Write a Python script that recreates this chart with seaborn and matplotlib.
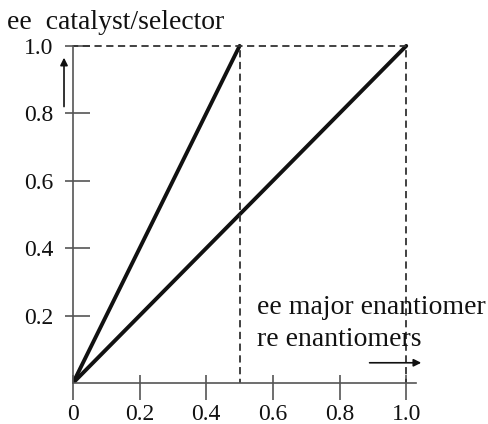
import matplotlib
matplotlib.use("Agg")
import matplotlib.pyplot as plt
import seaborn as sns
import pandas as pd

# dados
ee_steep_x = [0.0, 0.5]             # reta íngreme
ee_steep = [0.0, 1.0]
ee_diag_x = [0.0, 1.0]              # reta diagonal
ee_diag = [0.0, 1.0]

x_ticks = [0.0, 0.2, 0.4, 0.6, 0.8, 1.0]
x_labels = ["0", "0.2", "0.4", "0.6", "0.8", "1.0"]
y_ticks = [0.2, 0.4, 0.6, 0.8, 1.0]
y_labels = ["0.2", "0.4", "0.6", "0.8", "1.0"]

# guias tracejadas
guide_top_x = [-0.005, 1.0]
guide_top_y = [1.0, 1.0]
guide_v1_x = [0.5, 0.5]
guide_v2_x = [1.0, 1.0]
guide_v_y = [-0.01, 1.0]

sns.set_style("white")
plt.rcParams["font.family"] = ["Liberation Serif", "DejaVu Serif"]

fig = plt.figure(figsize=(4.88, 4.24), dpi=100)
ax = fig.add_axes([0.1496, 0.0967, 0.717, 0.811])

ink = "#111111"
gray = "#555555"

df_steep = pd.DataFrame({"x": ee_steep_x, "y": ee_steep})
df_diag = pd.DataFrame({"x": ee_diag_x, "y": ee_diag})
sns.lineplot(data=df_steep, x="x", y="y", ax=ax, color=ink, lw=2.8)
sns.lineplot(data=df_diag, x="x", y="y", ax=ax, color=ink, lw=2.8)

dash = dict(color="#333333", lw=1.3, dashes=(4, 2.5))
ax.plot(guide_top_x, guide_top_y, **dash)
ax.plot(guide_v1_x, guide_v_y, **dash)
ax.plot(guide_v2_x, guide_v_y, **dash)

ax.set_xlim(0, 1.05)
ax.set_ylim(0, 1.02)
ax.set_xticks(x_ticks)
ax.set_xticklabels(x_labels)
ax.set_yticks(y_ticks)
ax.set_yticklabels(y_labels)
# mesmos pontos como ticks menores, para o traço cruzar o eixo
ax.set_xticks(x_ticks, minor=True)
ax.set_yticks(y_ticks, minor=True)
ax.xaxis.remove_overlapping_locs = False
ax.yaxis.remove_overlapping_locs = False
ax.set_xlabel("")
ax.set_ylabel("")

for s in ["top", "right"]:
    ax.spines[s].set_visible(False)
ax.spines["left"].set_bounds(0, 1.0)
ax.spines["bottom"].set_bounds(0, 1.03)
for s in ["left", "bottom"]:
    ax.spines[s].set_color(gray)
    ax.spines[s].set_linewidth(1.2)

ax.tick_params(bottom=True, left=True, which="both", width=1.2, color=gray)
ax.tick_params(axis="x", which="major", direction="out", length=12, pad=3,
               labelsize=17, labelcolor=ink)
ax.tick_params(axis="x", which="minor", direction="in", length=6)
ax.tick_params(axis="y", which="major", direction="out", length=6, pad=8,
               labelsize=17, labelcolor=ink)
ax.tick_params(axis="y", which="minor", direction="in", length=12)

# setas
ax.annotate("", xy=(-0.027, 0.965), xytext=(-0.027, 0.82),
            arrowprops=dict(arrowstyle="-|>", color=ink, lw=1.2,
                            mutation_scale=11, shrinkA=0, shrinkB=0),
            annotation_clip=False)
ax.annotate("", xy=(1.045, 0.06), xytext=(0.89, 0.06),
            arrowprops=dict(arrowstyle="-|>", color=ink, lw=1.2,
                            mutation_scale=11, shrinkA=0, shrinkB=0),
            annotation_clip=False)

fig.text(0.015, 0.948, "ee  catalyst/selector", fontsize=20, color=ink,
         va="center", ha="left")
ax.text(0.553, 0.225, "ee major enantiomer", fontsize=20, color=ink,
        va="center", ha="left", clip_on=False)
ax.text(0.553, 0.128, "re enantiomers", fontsize=20, color=ink,
        va="center", ha="left", clip_on=False)

fig.savefig("out.png", dpi=100)
